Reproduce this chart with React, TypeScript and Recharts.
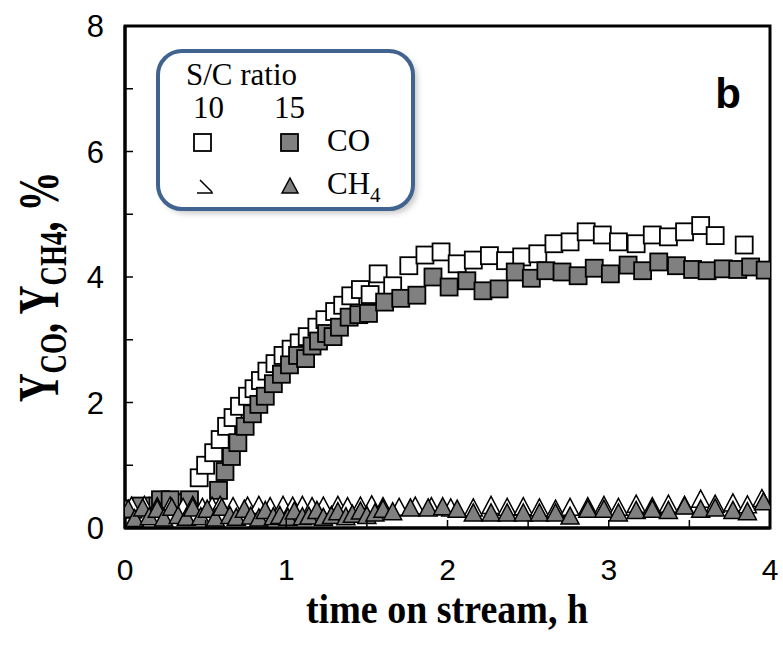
import { ReferenceArea, Scatter, ScatterChart, XAxis, YAxis } from "recharts";

// time on stream (h) and yields (%)
const T_CO10 = [0.05, 0.2, 0.35, 0.46, 0.5, 0.55, 0.59, 0.63, 0.67, 0.71, 0.76, 0.8, 0.84, 0.88, 0.93, 0.98, 1.03, 1.08, 1.13, 1.19, 1.24, 1.3, 1.35, 1.4, 1.46, 1.52, 1.57, 1.66, 1.76, 1.86, 1.96, 2.06, 2.16, 2.26, 2.36, 2.46, 2.56, 2.66, 2.76, 2.86, 2.96, 3.06, 3.17, 3.27, 3.37, 3.47, 3.57, 3.66, 3.84];
const Y_CO10 = [0.3, 0.35, 0.4, 0.8, 1.0, 1.2, 1.41, 1.62, 1.76, 1.94, 2.1, 2.22, 2.35, 2.5, 2.62, 2.75, 2.85, 2.95, 3.05, 3.2, 3.32, 3.45, 3.55, 3.7, 3.8, 3.72, 4.05, 3.86, 4.18, 4.35, 4.4, 4.21, 4.27, 4.34, 4.26, 4.32, 4.37, 4.53, 4.56, 4.72, 4.67, 4.56, 4.53, 4.67, 4.64, 4.72, 4.82, 4.66, 4.51];

const T_CO15 = [0.02, 0.1, 0.22, 0.28, 0.4, 0.58, 0.62, 0.66, 0.7, 0.745, 0.79, 0.83, 0.87, 0.92, 0.97, 1.02, 1.07, 1.12, 1.16, 1.2, 1.25, 1.29, 1.33, 1.39, 1.45, 1.51, 1.61, 1.71, 1.81, 1.91, 2.01, 2.12, 2.22, 2.32, 2.42, 2.52, 2.61, 2.71, 2.81, 2.91, 3.01, 3.12, 3.21, 3.31, 3.42, 3.52, 3.61, 3.71, 3.8, 3.88, 3.97];
const Y_CO15 = [0.3, 0.35, 0.45, 0.45, 0.45, 0.6, 0.9, 1.14, 1.36, 1.62, 1.82, 1.97, 2.1, 2.3, 2.45, 2.6, 2.75, 2.7, 2.9, 2.98, 3.1, 3.05, 3.2, 3.36, 3.4, 3.42, 3.6, 3.66, 3.71, 4.0, 3.84, 3.94, 3.78, 3.81, 4.08, 3.98, 4.1, 4.08, 4.02, 4.14, 4.05, 4.19, 4.1, 4.24, 4.18, 4.12, 4.1, 4.13, 4.12, 4.16, 4.11];

const T_CH4_10 = [0.04, 0.12, 0.2, 0.28, 0.36, 0.42, 0.48, 0.54, 0.59, 0.67, 0.76, 0.83, 0.9, 0.98, 1.04, 1.1, 1.16, 1.23, 1.32, 1.38, 1.46, 1.53, 1.6, 1.7, 1.8, 1.9, 2.02, 2.16, 2.27, 2.37, 2.47, 2.57, 2.67, 2.76, 2.87, 2.97, 3.06, 3.17, 3.27, 3.37, 3.47, 3.57, 3.66, 3.77, 3.86, 3.95];
const Y_CH4_10 = [0.35, 0.36, 0.34, 0.35, 0.33, 0.36, 0.33, 0.35, 0.36, 0.34, 0.35, 0.36, 0.34, 0.36, 0.35, 0.36, 0.34, 0.35, 0.36, 0.34, 0.35, 0.37, 0.34, 0.33, 0.35, 0.34, 0.32, 0.32, 0.36, 0.33, 0.34, 0.32, 0.3, 0.33, 0.34, 0.36, 0.33, 0.38, 0.34, 0.38, 0.36, 0.46, 0.38, 0.4, 0.37, 0.47];

const T_CH4_15 = [0.02, 0.06, 0.11, 0.15, 0.2, 0.24, 0.29, 0.33, 0.38, 0.42, 0.47, 0.51, 0.56, 0.6, 0.65, 0.69, 0.74, 0.78, 0.83, 0.87, 0.92, 0.96, 1.01, 1.05, 1.1, 1.14, 1.19, 1.23, 1.28, 1.32, 1.37, 1.41, 1.46, 1.5, 1.55, 1.6, 1.66, 1.77, 1.88, 1.97, 2.06, 2.16, 2.27, 2.37, 2.47, 2.57, 2.67, 2.76, 2.87, 2.97, 3.06, 3.17, 3.27, 3.37, 3.47, 3.57, 3.66, 3.77, 3.86, 3.96];
const Y_CH4_15 = [0.3, 0.15, 0.32, 0.18, 0.3, 0.16, 0.33, 0.2, 0.17, 0.32, 0.18, 0.3, 0.16, 0.33, 0.2, 0.17, 0.3, 0.19, 0.16, 0.28, 0.18, 0.2, 0.17, 0.27, 0.18, 0.19, 0.28, 0.17, 0.2, 0.26, 0.18, 0.22, 0.27, 0.2, 0.24, 0.3, 0.26, 0.32, 0.32, 0.34, 0.3, 0.24, 0.24, 0.24, 0.24, 0.24, 0.24, 0.19, 0.3, 0.3, 0.24, 0.28, 0.3, 0.28, 0.35, 0.3, 0.32, 0.28, 0.26, 0.42];

const X_TICKS = [0, 0.5, 1, 1.5, 2, 2.5, 3, 3.5, 4];
const Y_TICKS = [0, 1, 2, 3, 4, 5, 6, 7, 8];

const zip = (t: number[], y: number[]) => t.map((v, i) => ({ t: v, y: y[i] }));

const GRAY = "#808080";
const SANS = "'Liberation Sans', Arial, sans-serif";
const SERIF = "'Liberation Serif', 'Times New Roman', serif";

const square = (fill: string) => (p: any) => (
  <rect x={p.cx - 8.5} y={p.cy - 8.5} width={17} height={17} fill={fill} stroke="#000" strokeWidth={1.8} />
);
const triangle = (fill: string) => (p: any) => (
  <path
    d={`M${p.cx},${p.cy - 9} L${p.cx + 9},${p.cy + 8} L${p.cx - 9},${p.cy + 8} Z`}
    fill={fill}
    stroke="#000"
    strokeWidth={1.5}
  />
);

function XTick({ x, y, payload }: any) {
  const v = payload.value;
  return (
    <g>
      <line x1={x} x2={x} y1={y} y2={y - 8} stroke="#000" strokeWidth={1.5} />
      {Number.isInteger(v) && (
        <text x={x} y={y + 52} textAnchor="middle" fontFamily={SANS} fontSize={30}>
          {v}
        </text>
      )}
    </g>
  );
}

function YTick({ x, y, payload }: any) {
  const v = payload.value;
  return (
    <g>
      <line x1={x} x2={x + 8} y1={y} y2={y} stroke="#000" strokeWidth={1.5} />
      {v % 2 === 0 && (
        <text x={x - 21} y={y + 11} textAnchor="end" fontFamily={SANS} fontSize={31}>
          {v}
        </text>
      )}
    </g>
  );
}

function Overlay() {
  return (
    <svg width={783} height={646} style={{ position: "absolute", left: 0, top: 0, pointerEvents: "none" }}>
      <defs>
        <filter id="sh" x="-10%" y="-10%" width="130%" height="130%">
          <feGaussianBlur stdDeviation="3" />
        </filter>
      </defs>
      {/* legend box */}
      <rect x={162} y={55} width={255} height={158} rx={24} fill="#999" opacity={0.6} filter="url(#sh)" />
      <rect x={158} y={51} width={255} height={158} rx={24} fill="#fff" stroke="#41638f" strokeWidth={4} />
      <g fontFamily={SERIF} fontSize={31}>
        <text x={186} y={85}>S/C ratio</text>
        <text x={193} y={118}>10</text>
        <text x={274} y={118}>15</text>
        <text x={327} y={151}>CO</text>
        <text x={327} y={194}>
          CH<tspan fontSize={21} dy={8}>4</tspan>
        </text>
      </g>
      <rect x={194} y={134} width={17} height={17} fill="#fff" stroke="#000" strokeWidth={1.8} />
      <rect x={281} y={134} width={17} height={17} fill={GRAY} stroke="#000" strokeWidth={1.8} />
      <path d="M200,180 L212,192 M197,193 L213,193" fill="none" stroke="#000" strokeWidth={1.5} />
      <path d="M290,178 L298,193 L282,193 Z" fill={GRAY} stroke="#000" strokeWidth={1.5} />
      {/* panel letter */}
      <text x={728} y={108} textAnchor="middle" fontFamily={SANS} fontWeight="bold" fontSize={42}>
        b
      </text>
      {/* axis titles */}
      <text
        transform="translate(447,623) scale(1,1.1)"
        textAnchor="middle"
        fontFamily={SERIF}
        fontWeight="bold"
        fontSize={38}
      >
        time on stream, h
      </text>
      <text
        transform="translate(58,287) rotate(-90) scale(1,1.4)"
        textAnchor="middle"
        fontFamily={SERIF}
        fontWeight="bold"
        fontSize={40}
      >
        Y<tspan fontSize={27} dy={6}>CO</tspan>
        <tspan dy={-6}>, Y</tspan>
        <tspan fontSize={27} dy={6}>CH4</tspan>
        <tspan dy={-6}>, %</tspan>
      </text>
    </svg>
  );
}

export default function App() {
  return (
    <div style={{ position: "absolute", left: 0, top: 0, width: 783, height: 646, background: "#fff" }}>
      <ScatterChart width={783} height={646} margin={{ top: 26, right: 13, bottom: 0, left: 0 }}>
        <XAxis
          type="number"
          dataKey="t"
          domain={[0, 4]}
          ticks={X_TICKS}
          interval={0}
          height={118}
          tickSize={0}
          tickMargin={0}
          tick={<XTick />}
          axisLine={{ stroke: "#000", strokeWidth: 3 }}
          tickLine={false}
          allowDataOverflow
        />
        <YAxis
          type="number"
          dataKey="y"
          domain={[0, 8]}
          ticks={Y_TICKS}
          interval={0}
          width={125}
          tickSize={0}
          tickMargin={0}
          tick={<YTick />}
          axisLine={{ stroke: "#000", strokeWidth: 3 }}
          tickLine={false}
          allowDataOverflow
        />
        <ReferenceArea x1={0} x2={4} y1={0} y2={8} fill="none" stroke="#000" strokeWidth={3} />
        <Scatter data={zip(T_CO10, Y_CO10)} shape={square("#fff")} isAnimationActive={false} />
        <Scatter data={zip(T_CO15, Y_CO15)} shape={square(GRAY)} isAnimationActive={false} />
        <Scatter data={zip(T_CH4_10, Y_CH4_10)} shape={triangle("#fff")} isAnimationActive={false} />
        <Scatter data={zip(T_CH4_15, Y_CH4_15)} shape={triangle(GRAY)} isAnimationActive={false} />
      </ScatterChart>
      <Overlay />
    </div>
  );
}
